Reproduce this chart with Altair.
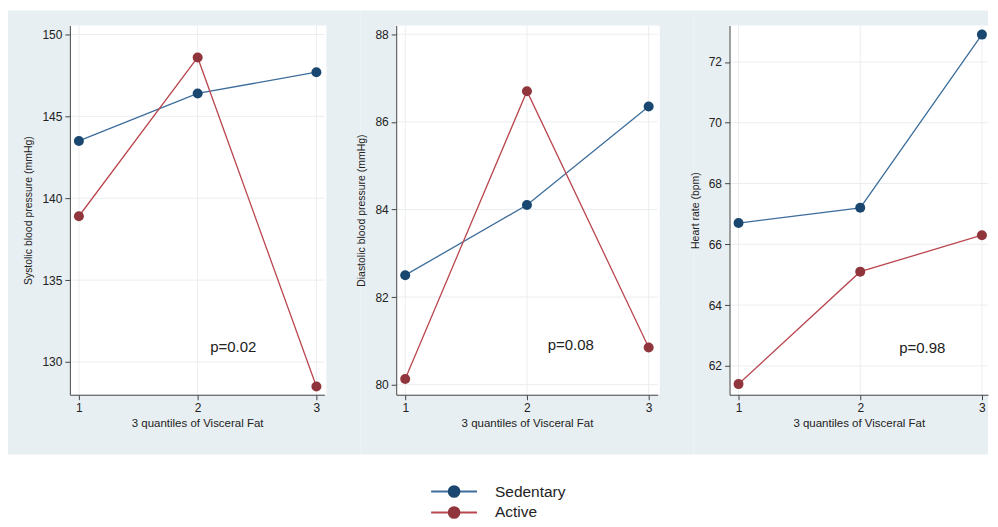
import altair as alt
import pandas as pd

groups = ["Sedentary", "Active"]
quantiles = [1, 2, 3]

sbp_sedentary = [143.5, 146.4, 147.7]
sbp_active = [138.9, 148.6, 128.5]
dbp_sedentary = [82.5, 84.1, 86.35]
dbp_active = [80.13, 86.7, 80.85]
hr_sedentary = [66.7, 67.2, 72.9]
hr_active = [61.4, 65.1, 66.3]

y_titles = ["Systolic blood pressure (mmHg)", "Diastolic blood pressure (mmHg)", "Heart rate (bpm)"]
y_ticks = [[130, 135, 140, 145, 150], [80, 82, 84, 86, 88], [62, 64, 66, 68, 70, 72]]
y_domains = [[128.0, 150.55], [79.77, 88.2], [61.05, 73.2]]
p_labels = ["p=0.02", "p=0.08", "p=0.98"]
p_x = [2.30, 2.36, 2.51]
p_y = [130.9, 80.9, 62.6]
x_title = "3 quantiles of Visceral Fat"

series = [(sbp_sedentary, sbp_active), (dbp_sedentary, dbp_active), (hr_sedentary, hr_active)]

marker_colors = ["#1a476f", "#90353b"]
line_colors = ["#3d6d9b", "#b9474f"]
BG = "#e8eff2"
GRID = "#eaedef"
FONT = "Liberation Sans"

widths = [255, 262, 259]
H = 370
x_domains = [[0.924, 3.067], [0.926, 3.074], [0.926, 3.05]]
gray_x = [(-62, 36), (-36, 36), (-36, 0)]

color_l = alt.Color("g:N", scale=alt.Scale(domain=groups, range=line_colors), legend=None)
color_m = alt.Fill("g:N", scale=alt.Scale(domain=groups, range=marker_colors), legend=None)


def legend_layers():
    leg_df = pd.DataFrame({"g": groups})
    ly = alt.Y("g:N", scale=alt.Scale(type="point", domain=groups, range=[H + 97, H + 118], padding=0),
               axis=None)
    leg_line = alt.Chart(leg_df).mark_rule(strokeWidth=2, clip=False).encode(
        x=alt.value(35), x2=alt.value(81), y=ly, color=color_l)
    leg_pt = alt.Chart(leg_df).mark_circle(size=160, opacity=1, clip=False).encode(
        x=alt.value(58), y=ly, fill=color_m)
    leg_txt = alt.Chart(leg_df).mark_text(font=FONT, fontSize=15.5, align="left", color="#222",
                                          clip=False).encode(
        x=alt.value(99), y=ly, text="g:N")
    return alt.layer(leg_line, leg_pt, leg_txt)


def panel(i):
    sed, act = series[i]
    df = pd.DataFrame({
        "q": quantiles * 2,
        "v": sed + act,
        "g": [groups[0]] * 3 + [groups[1]] * 3,
    })
    w = widths[i]
    xs = alt.Scale(domain=x_domains[i], nice=False, zero=False)
    ys = alt.Scale(domain=y_domains[i], nice=False, zero=False)
    xax = alt.Axis(values=quantiles, title=x_title, format="d", zindex=1, grid=False)
    yax = alt.Axis(values=y_ticks[i], title=y_titles[i], format="d", zindex=1, grid=False)
    base = alt.Chart(df)
    bg = alt.Chart(pd.DataFrame({"a": [0]})).mark_rect(color=BG, clip=False).encode(
        x=alt.value(gray_x[i][0]), x2=alt.value(w + gray_x[i][1]),
        y=alt.value(-15), y2=alt.value(H + 60))
    white = alt.Chart(pd.DataFrame({"a": [0]})).mark_rect(color="white").encode(
        x=alt.value(0), x2=alt.value(w + 2), y=alt.value(0), y2=alt.value(H))
    hgrid = alt.Chart(pd.DataFrame({"t": y_ticks[i]})).mark_rule(color=GRID, strokeWidth=1).encode(
        y=alt.Y("t:Q", scale=ys), x=alt.value(0), x2=alt.value(w))
    vgrid = alt.Chart(pd.DataFrame({"t": quantiles})).mark_rule(color=GRID, strokeWidth=1).encode(
        x=alt.X("t:Q", scale=xs), y=alt.value(0), y2=alt.value(H))
    lines = base.mark_line(strokeWidth=1.3).encode(
        x=alt.X("q:Q", scale=xs, axis=xax),
        y=alt.Y("v:Q", scale=ys, axis=yax),
        color=color_l, detail="g:N")
    pts = base.mark_circle(size=100, opacity=1).encode(
        x=alt.X("q:Q", scale=xs),
        y=alt.Y("v:Q", scale=ys),
        fill=color_m)
    txt = alt.Chart(pd.DataFrame({"t": [p_labels[i]], "x": [p_x[i]], "y": [p_y[i]]})).mark_text(
        font=FONT, fontSize=15, color="#222").encode(
        x=alt.X("x:Q", scale=xs), y=alt.Y("y:Q", scale=ys), text="t:N")
    inner = alt.layer(bg, white, hgrid, vgrid, lines, pts, txt).properties(width=w, height=H)
    if i == 1:
        return alt.layer(inner, legend_layers()).resolve_scale(y="independent").properties(
            width=w, height=H)
    return inner


chart = alt.hconcat(panel(0), panel(1), panel(2), spacing=72, bounds="flush").resolve_scale(
    x="independent", y="independent").properties(
    background="white", padding={"left": 0, "top": 2, "right": 0, "bottom": 0}
).configure_view(stroke=None, fill=None).configure_axis(
    labelFont=FONT, titleFont=FONT, labelFontSize=12, titleFontSize=11.5,
    labelColor="#222", titleColor="#222", titleFontWeight="normal",
    domainColor="#444", tickColor="#444", tickSize=5, labelPadding=3,
).configure_axisY(titlePadding=8, labelAngle=0, titleFontSize=10.5).configure_axisX(
    titlePadding=4, labelFlush=False)

chart.save("out.html", embed_options={"renderer": "svg", "actions": False})
